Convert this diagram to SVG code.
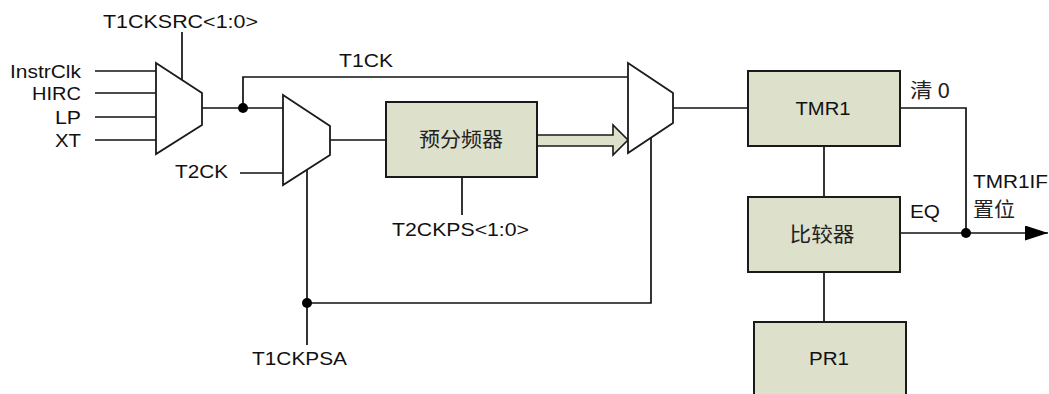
<svg xmlns="http://www.w3.org/2000/svg" width="1049" height="394" viewBox="0 0 1049 394">
<style>
text{font-family:"Liberation Sans",Arial,"Noto Sans CJK SC",sans-serif;font-size:18.5px;fill:#111}
.cjk{font-family:"Noto Sans CJK SC","Liberation Sans",sans-serif;font-size:20px;fill:#222}
.box{fill:#dde0ca;stroke:#1a1a1a;stroke-width:2}
.mux{fill:#fff;stroke:#1a1a1a;stroke-width:1.8;stroke-linejoin:miter}
.w{fill:none;stroke:#111;stroke-width:1.7}
.dot{fill:#000}
</style>
<defs>
<marker id="arr" markerUnits="userSpaceOnUse" markerWidth="24" markerHeight="16" refX="23" refY="7.5" orient="auto">
<polygon points="0,0 23,7.5 0,15" fill="#000"/>
</marker>
</defs>
<g id="connectors">
<polyline class="w" points="95,71 156,71"/>
<polyline class="w" points="95,93 156,93"/>
<polyline class="w" points="95,117 156,117"/>
<polyline class="w" points="95,140 156,140"/>
<polyline class="w" points="182,32 182,80"/>
<polyline class="w" points="202,108 283,108"/>
<polyline class="w" points="243,108 243,77 628,77"/>
<polyline class="w" points="240,173 283,173"/>
<polyline class="w" points="330,140 386,140"/>
<polyline class="w" points="462,177 462,215"/>
<polyline class="w" points="307,170 307,345"/>
<polyline class="w" points="307,303 651,303 651,138"/>
<polyline class="w" points="673,108 748,108"/>
<polyline class="w" points="900,108 966,108 966,233"/>
<polyline class="w" points="824,146 824,197"/>
<polyline class="w" points="824,272 824,322"/>
<line class="w" x1="900" y1="233" x2="1048" y2="233" marker-end="url(#arr)"/>
<polygon points="537,135 613,135 613,125 628,140 613,155 613,146 537,146" fill="#dde0ca" stroke="#1a1a1a" stroke-width="1.6"/>
<circle class="dot" cx="243" cy="108" r="5"/>
<circle class="dot" cx="307" cy="303" r="5"/>
<circle class="dot" cx="966" cy="233" r="5"/>
</g>
<g id="inputs">
<text x="81" y="78" text-anchor="end" textLength="71" lengthAdjust="spacingAndGlyphs">InstrClk</text>
<text x="81" y="100" text-anchor="end" textLength="49" lengthAdjust="spacingAndGlyphs">HIRC</text>
<text x="81" y="124" text-anchor="end" textLength="26" lengthAdjust="spacingAndGlyphs">LP</text>
<text x="81" y="147" text-anchor="end" textLength="26" lengthAdjust="spacingAndGlyphs">XT</text>
</g>
<g id="mux1">
<polygon class="mux" points="156,63 202,93 202,125 156,154"/>
<text x="103" y="28" textLength="155" lengthAdjust="spacingAndGlyphs">T1CKSRC&lt;1:0&gt;</text>
</g>
<g id="mux2">
<polygon class="mux" points="283,95 330,126 330,155 283,185"/>
<text x="175" y="178" textLength="53" lengthAdjust="spacingAndGlyphs">T2CK</text>
<text x="252" y="365" textLength="95" lengthAdjust="spacingAndGlyphs">T1CKPSA</text>
</g>
<g id="t1ck-label">
<text x="339" y="67" textLength="54" lengthAdjust="spacingAndGlyphs">T1CK</text>
</g>
<g id="prescaler">
<rect class="box" x="386" y="102" width="151" height="75"/>
<text class="cjk" x="461" y="147" text-anchor="middle" textLength="84" lengthAdjust="spacingAndGlyphs">预分频器</text>
<text x="392" y="236" textLength="137" lengthAdjust="spacingAndGlyphs">T2CKPS&lt;1:0&gt;</text>
</g>
<g id="mux3">
<polygon class="mux" points="628,63 673,93 673,123 628,153"/>
</g>
<g id="tmr1">
<rect class="box" x="748" y="71" width="152" height="75"/>
<text x="823" y="115" text-anchor="middle" textLength="55" lengthAdjust="spacingAndGlyphs">TMR1</text>
</g>
<g id="comparator">
<rect class="box" x="748" y="197" width="152" height="75"/>
<text class="cjk" x="822" y="242" text-anchor="middle" textLength="65" lengthAdjust="spacingAndGlyphs">比较器</text>
</g>
<g id="pr1">
<rect class="box" x="754" y="322" width="152" height="80"/>
<text x="829" y="365" text-anchor="middle" textLength="40" lengthAdjust="spacingAndGlyphs">PR1</text>
</g>
<g id="output-labels">
<text class="cjk" x="910" y="98" textLength="40" lengthAdjust="spacingAndGlyphs">清 0</text>
<text x="910" y="218" textLength="30" lengthAdjust="spacingAndGlyphs">EQ</text>
<text x="973" y="188" textLength="75" lengthAdjust="spacingAndGlyphs">TMR1IF</text>
<text class="cjk" x="973" y="217" textLength="42" lengthAdjust="spacingAndGlyphs">置位</text>
</g>
</svg>
